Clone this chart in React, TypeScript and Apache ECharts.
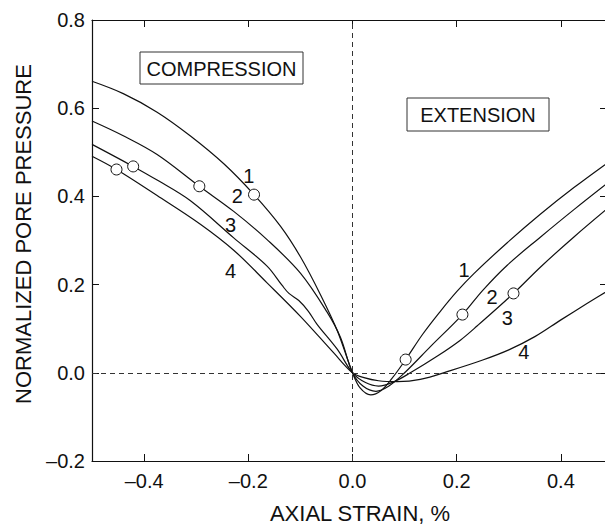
import { useEffect, useRef } from 'react';
import * as echarts from 'echarts';

// Normalized pore pressure vs axial strain (%), four curves
const curve1: number[][] = [
  [-0.5, 0.661], [-0.44, 0.633], [-0.375, 0.591], [-0.311, 0.537], [-0.247, 0.474],
  [-0.189, 0.404], [-0.138, 0.332], [-0.1, 0.263], [-0.061, 0.176], [-0.029, 0.095],
  [0, 0], [0.015, -0.035], [0.035, -0.05], [0.055, -0.04], [0.075, -0.014], [0.102, 0.03],
  [0.135, 0.088], [0.169, 0.14], [0.2, 0.184], [0.233, 0.225], [0.297, 0.295], [0.361, 0.36],
  [0.425, 0.42], [0.5, 0.485],
];
const curve2: number[][] = [
  [-0.5, 0.571], [-0.439, 0.537], [-0.375, 0.495], [-0.294, 0.423], [-0.228, 0.366],
  [-0.164, 0.302], [-0.1, 0.226], [-0.049, 0.138], [-0.023, 0.08], [0, 0],
  [0.02, -0.03], [0.045, -0.042], [0.07, -0.03], [0.1, 0.0], [0.15, 0.06],
  [0.211, 0.132], [0.25, 0.187], [0.297, 0.244], [0.361, 0.308], [0.425, 0.37], [0.5, 0.44],
];
const curve3: number[][] = [
  [-0.5, 0.518], [-0.421, 0.468], [-0.375, 0.437], [-0.311, 0.39], [-0.228, 0.306],
  [-0.164, 0.242], [-0.135, 0.198], [-0.122, 0.18], [-0.103, 0.164], [-0.085, 0.14],
  [-0.068, 0.11], [-0.029, 0.053], [0, 0], [0.025, -0.022], [0.05, -0.03], [0.08, -0.02],
  [0.111, 0.0], [0.163, 0.038], [0.207, 0.074], [0.239, 0.106], [0.309, 0.18],
  [0.361, 0.24], [0.425, 0.308], [0.5, 0.383],
];
const curve4: number[][] = [
  [-0.5, 0.491], [-0.453, 0.461], [-0.375, 0.402], [-0.292, 0.337], [-0.228, 0.278],
  [-0.164, 0.204], [-0.1, 0.128], [-0.036, 0.045], [0, 0], [0.022, -0.011],
  [0.05, -0.018], [0.086, -0.02], [0.13, -0.015], [0.188, 0.005], [0.25, 0.029],
  [0.3, 0.052], [0.35, 0.082], [0.4, 0.12], [0.45, 0.157], [0.5, 0.193],
];
const circlePoints: number[][] = [
  [-0.189, 0.404], [-0.294, 0.423], [-0.421, 0.468], [-0.453, 0.461],
  [0.102, 0.03], [0.211, 0.132], [0.309, 0.18],
];
const curveLabels = [
  { name: '1', value: [-0.199, 0.446] },
  { name: '2', value: [-0.221, 0.4] },
  { name: '3', value: [-0.234, 0.336] },
  { name: '4', value: [-0.234, 0.23] },
  { name: '1', value: [0.214, 0.234] },
  { name: '2', value: [0.268, 0.171] },
  { name: '3', value: [0.297, 0.125] },
  { name: '4', value: [0.329, 0.048] },
];
const xTickValues = [-0.4, -0.2, 0, 0.2, 0.4];
const xTitle = 'AXIAL STRAIN, %';
const yTitle = 'NORMALIZED PORE PRESSURE';
const boxLabels = ['COMPRESSION', 'EXTENSION'];

const FONT = 'Liberation Sans, Arial, Helvetica, sans-serif';
const INK = '#111';

const fmt = (v: number) => v.toFixed(1).replace('-', '\u2013');

export default function App() {
  const ref = useRef<HTMLDivElement>(null);
  useEffect(() => {
    const chart = echarts.init(ref.current!, undefined, { renderer: 'svg' });
    const lineSeries = [curve1, curve2, curve3, curve4].map((d, i) => ({
      type: 'line',
      data: d,
      smooth: 0.35,
      showSymbol: false,
      symbol: 'none',
      lineStyle: { color: INK, width: 1.2 },
      z: 2,
      ...(i === 0
        ? {
            markLine: {
              silent: true,
              symbol: ['none', 'none'],
              label: { show: false },
              lineStyle: { color: '#333', width: 1, type: [5, 4] },
              data: [{ xAxis: 0 }, { yAxis: 0 }],
            },
          }
        : {}),
    }));
    const axisLine = { show: true, onZero: false, lineStyle: { color: INK, width: 1.2 } };
    chart.setOption({
      animation: false,
      backgroundColor: '#fff',
      grid: { left: 92, top: 20, width: 521, height: 441 },
      xAxis: [
        {
          type: 'value', min: -0.5, max: 0.5, position: 'bottom',
          axisLine,
          axisTick: { inside: true, length: 7, customValues: xTickValues, lineStyle: { color: INK } },
          axisLabel: { customValues: xTickValues, formatter: fmt, margin: 10, fontSize: 20, fontFamily: FONT, color: INK },
          splitLine: { show: false },
        },
        {
          type: 'value', min: -0.5, max: 0.5, position: 'top',
          axisLine,
          axisTick: { show: true, inside: true, length: 7, customValues: xTickValues, lineStyle: { color: INK } },
          axisLabel: { show: false },
          splitLine: { show: false },
        },
      ],
      yAxis: [
        {
          type: 'value', min: -0.2, max: 0.8, interval: 0.2, position: 'left',
          axisLine,
          axisTick: { show: true, inside: true, length: 7, lineStyle: { color: INK } },
          axisLabel: { formatter: fmt, margin: 7, fontSize: 20, fontFamily: FONT, color: INK },
          splitLine: { show: false },
        },
        {
          type: 'value', min: -0.2, max: 0.8, interval: 0.2, position: 'right',
          axisLine,
          axisTick: { show: true, inside: true, length: 13, lineStyle: { color: INK } },
          axisLabel: { show: false },
          splitLine: { show: false },
        },
      ],
      series: [
        ...lineSeries,
        {
          type: 'scatter',
          data: circlePoints,
          symbol: 'circle',
          symbolSize: 11,
          itemStyle: { color: '#fff', borderColor: INK, borderWidth: 1, opacity: 1 },
          z: 5,
        },
        {
          type: 'scatter',
          data: curveLabels,
          symbolSize: 0,
          itemStyle: { opacity: 1 },
          label: {
            show: true,
            position: 'inside',
            formatter: (p: any) => p.name,
            fontSize: 20,
            fontFamily: FONT,
            color: INK,
          },
          z: 6,
        },
      ],
      graphic: [
        {
          type: 'group',
          children: [
            { type: 'rect', shape: { x: 140, y: 52, width: 163, height: 32 }, style: { fill: '#fff', stroke: '#333', lineWidth: 1 } },
            { type: 'text', x: 221.5, y: 68.5, style: { text: boxLabels[0], align: 'center', verticalAlign: 'middle', fontSize: 20, fontFamily: FONT, fill: INK } },
            { type: 'rect', shape: { x: 407, y: 98, width: 142, height: 33 }, style: { fill: '#fff', stroke: '#333', lineWidth: 1 } },
            { type: 'text', x: 478, y: 115, style: { text: boxLabels[1], align: 'center', verticalAlign: 'middle', fontSize: 20, fontFamily: FONT, fill: INK } },
            { type: 'text', x: 360, y: 513, style: { text: xTitle, align: 'center', verticalAlign: 'middle', fontSize: 22, fontFamily: FONT, fill: INK } },
            { type: 'text', x: 23, y: 234, rotation: Math.PI / 2, style: { text: yTitle, align: 'center', verticalAlign: 'middle', fontSize: 22, fontFamily: FONT, fill: INK } },
          ],
        },
      ],
    });
    return () => chart.dispose();
  }, []);
  return (
    <div style={{ position: 'fixed', left: 0, top: 0, width: 605, height: 525, overflow: 'hidden', background: '#fff' }}>
      <div ref={ref} style={{ width: 620, height: 525 }} />
    </div>
  );
}
